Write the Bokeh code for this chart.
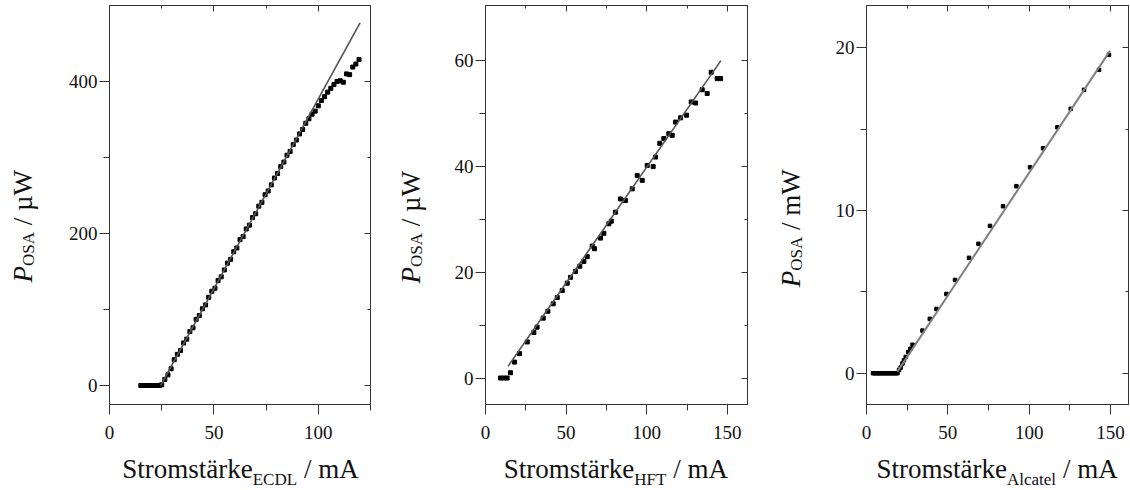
import math
from bokeh.plotting import figure
from bokeh.models import Range1d, FixedTicker, LinearAxis, Label, CustomJSTickFormatter
from bokeh.layouts import row, column
from bokeh.embed import file_html
from bokeh.resources import INLINE

FONT = "Liberation Serif"

# ---------------- data ----------------
# Panel 1: ECDL
ecdl_current = [15, 16, 17, 18, 19, 20, 21, 22, 23, 24,
                25, 26.5, 28, 29.5, 31, 32.5, 34, 35.5, 37, 38.5, 40, 41.5, 43, 44.5, 46, 47.5,
                49, 50.5, 52, 53.5, 55, 56.5, 58, 59.5, 61, 62.5, 64, 65.5, 67, 68.5, 70, 71.5,
                73, 74.5, 76, 77.5, 79, 80.5, 82, 83.5, 85, 86.5, 88, 89.5, 91, 92.5, 94, 95.5,
                97, 98.5, 100, 101.5, 103, 104.5, 106, 107.5, 109, 110.5, 112, 113.5, 115, 116.5,
                118, 119.5]
ecdl_power = [0, 0, 0, 0, 0, 0, 0, 0, 0, 0,
              1, 8, 14, 22, 34, 41, 46, 56, 61, 71, 76, 87, 92, 101, 106, 116,
              124, 128, 138, 143, 152, 161, 166, 176, 181, 192, 196, 206, 211, 221, 226, 236,
              241, 251, 256, 264, 273, 279, 288, 294, 303, 308, 317, 323, 331, 337, 345, 351,
              357, 361, 368, 375, 380, 386, 391, 396, 400, 401, 399, 410, 409, 419,
              423, 429]
ecdl_fit_x = [24.5, 120.0]
ecdl_fit_y = [0.0, 477.0]

# Panel 2: HFT
hft_current = [9.3, 11.4, 13.4, 15.5, 18.0, 21.1, 25.9, 30.0, 32.0, 35.8, 38.7, 42.0, 44.5,
               47.6, 50.7, 52.7, 55.8, 58.5, 61.0, 63.1, 66.2, 67.6, 71.3, 73.4, 76.5, 78.0,
               80.6, 83.7, 86.8, 91.0, 94.1, 97.2, 100.3, 104.0, 105.5, 108.1, 110.6, 113.7,
               115.8, 117.9, 121.0, 124.7, 127.6, 130.3, 134.4, 137.5, 140.0, 143.7, 145.8]
hft_power = [0, 0, 0, 1.0, 3.0, 4.6, 6.8, 8.6, 9.6, 11.3, 12.6, 14.0, 15.2,
             16.5, 17.9, 19.0, 20.1, 21.1, 22.0, 22.9, 24.9, 24.4, 26.4, 27.3, 29.1, 29.6,
             31.3, 33.8, 33.5, 35.7, 38.2, 37.3, 40.1, 39.9, 41.7, 44.3, 45.2, 46.1,
             45.8, 48.3, 49.1, 49.6, 52.1, 51.9, 54.4, 53.7, 57.7, 56.5, 56.5]
hft_fit_x = [14.0, 146.0]
hft_fit_y = [2.2, 59.9]

# Panel 3: Alcatel (mW)
alc_current = [4, 5, 6, 7, 8, 9, 10, 11, 12, 13, 14, 15, 16, 17, 18, 19,
               20.0, 21.0, 22.1, 23.0, 24.1, 25.6, 27.0, 28.3, 34.4, 38.9, 43.0, 49.1, 54.4,
               63.0, 68.8, 75.9, 83.9, 92.1, 100.5, 108.5, 117.3, 125.5, 133.7, 142.9, 149.0]
alc_power = [0, 0, 0, 0, 0, 0, 0, 0, 0, 0, 0, 0, 0, 0, 0, 0,
             0.2, 0.35, 0.6, 0.8, 1.0, 1.3, 1.5, 1.75, 2.62, 3.34, 3.95, 4.87, 5.73,
             7.09, 7.95, 9.05, 10.26, 11.49, 12.65, 13.82, 15.11, 16.24, 17.41, 18.64, 19.56]
alc_fit_x = [19.0, 149.6]
alc_fit_y = [0.1, 19.8]

# tick values
p1_xticks, p1_xminor = [0, 50, 100], [25, 75, 125]
p1_yticks, p1_yminor = [0, 200, 400], [100, 300]
p2_xticks, p2_xminor = [0, 50, 100, 150], [25, 75, 125]
p2_yticks, p2_yminor = [0, 20, 40, 60], [10, 30, 50]
p3_xticks, p3_xminor = [0, 50, 100, 150], [25, 75, 125]
p3_yticks, p3_yminor = [0, 10, 20], [5, 15]

AX = "#333333"
MAIN_H = 448
XLAB_H = 40
HALF_BIG = 9.1   # middle -> baseline offset, 27px
HALF_SMALL = 5.7  # middle -> baseline offset, 17px


def lab(p, text, x, y, size, angle=0.0, style="normal"):
    p.add_layout(Label(x=x, y=y, x_units="screen", y_units="screen", text=text,
                       text_font=FONT, text_font_size=f"{size}px", text_font_style=style,
                       angle=angle, text_align="left", text_baseline="middle",
                       text_color="#111111"))


def blank(width, height):
    p = figure(width=width, height=height, output_backend="svg", toolbar_location=None,
               x_range=Range1d(0, 1), y_range=Range1d(0, 1),
               x_axis_location=None, y_axis_location=None,
               min_border_left=0, min_border_right=0, min_border_top=0, min_border_bottom=0)
    p.outline_line_color = None
    p.grid.visible = False
    p.background_fill_color = "white"
    p.border_fill_color = "white"
    return p


def panel(width, bl, br, xr, yr, xt, xm, yt, ym):
    p = figure(width=width, height=MAIN_H, output_backend="svg", toolbar_location=None,
               x_range=Range1d(*xr), y_range=Range1d(*yr),
               min_border_left=bl, min_border_right=br, min_border_top=5, min_border_bottom=44)
    p.xgrid.visible = False
    p.ygrid.visible = False
    p.outline_line_color = AX
    p.background_fill_color = "white"
    p.border_fill_color = "white"
    for ax, t, m in ((p.xaxis[0], xt, xm), (p.yaxis[0], yt, ym)):
        ax.ticker = FixedTicker(ticks=t, minor_ticks=m)
        ax.axis_line_color = AX
        ax.major_tick_line_color = AX
        ax.minor_tick_line_color = AX
        ax.major_tick_out = 10
        ax.major_tick_in = 0
        ax.minor_tick_out = 6
        ax.minor_tick_in = 0
        ax.major_label_text_font = FONT
        ax.major_label_text_font_size = "19px"
        ax.major_label_text_color = "#111111"
    p.xaxis[0].major_label_standoff = 11
    p.yaxis[0].major_label_standoff = 2
    # mirrored axes (ticks only)
    for loc, t, m in (("above", xt, xm), ("right", yt, ym)):
        a = LinearAxis(ticker=FixedTicker(ticks=t, minor_ticks=m),
                       formatter=CustomJSTickFormatter(code="return ''"))
        a.axis_line_color = AX
        a.major_tick_line_color = AX
        a.minor_tick_line_color = AX
        a.major_tick_out = 0
        a.major_tick_in = 6
        a.minor_tick_out = 0
        a.minor_tick_in = 3
        a.major_label_text_font_size = "1px"
        a.major_label_standoff = 0
        p.add_layout(a, loc)
    return p


def ylabel(p, base_x, start_y, unit):
    lab(p, "P", base_x - HALF_BIG, start_y, 27, math.pi / 2, "italic")
    lab(p, "OSA", base_x + 2 - HALF_SMALL, start_y + 16.5, 17, math.pi / 2)
    lab(p, "/ " + unit, base_x - HALF_BIG, start_y + 16.5 + 34 + 6.8, 27, math.pi / 2)


def xlabel(p, start_x, sub, sub_w):
    lab(p, "Stromstärke", start_x, 10.3 + HALF_BIG, 27)
    lab(p, sub, start_x + 130.5, 3.7 + HALF_SMALL, 17)
    lab(p, "/ mA", start_x + 130.5 + sub_w + 6.8, 10.3 + HALF_BIG, 27)


# ---------- Panel 1 ----------
p1 = panel(332, 65, 6, (0, 125), (-25, 500), p1_xticks, p1_xminor, p1_yticks, p1_yminor)
p1.scatter(ecdl_current, ecdl_power, marker="square", size=4, color="black")
p1.line(ecdl_fit_x, ecdl_fit_y, line_color="#595252", line_width=1.6)
y1 = blank(44, MAIN_H)
ylabel(y1, 32, 122, "µW")
x1 = blank(376, XLAB_H)
xlabel(x1, 121.7, "ECDL", 44.4)
panel1 = column(row(y1, p1), x1)

# ---------- Panel 2 ----------
p2 = panel(324, 57, 5, (0, 162.5), (-5, 70.3), p2_xticks, p2_xminor, p2_yticks, p2_yminor)
p2.scatter(hft_current, hft_power, marker="square", size=4, color="black")
p2.line(hft_fit_x, hft_fit_y, line_color="#595252", line_width=1.6)
y2 = blank(52, MAIN_H)
ylabel(y2, 43.3, 121, "µW")
x2 = blank(376, XLAB_H)
xlabel(x2, 127.3, "HFT", 32.1)
panel2 = column(row(y2, p2), x2)

# ---------- Panel 3 ----------
p3 = panel(322, 58, 2, (0, 161), (-1.92, 22.59), p3_xticks, p3_xminor, p3_yticks, p3_yminor)
p3.scatter(alc_current, alc_power, marker="square", size=3.5, color="black")
p3.line(alc_fit_x, alc_fit_y, line_color="#808080", line_width=2)
y3 = blank(56, MAIN_H)
ylabel(y3, 48, 117.3, "mW")
x3 = blank(378, XLAB_H)
xlabel(x3, 124, "Alcatel", 49.1)
panel3 = column(row(y3, p3), x3)

layout = row(panel1, panel2, panel3)
open("out.html", "w").write(file_html(layout, INLINE))
